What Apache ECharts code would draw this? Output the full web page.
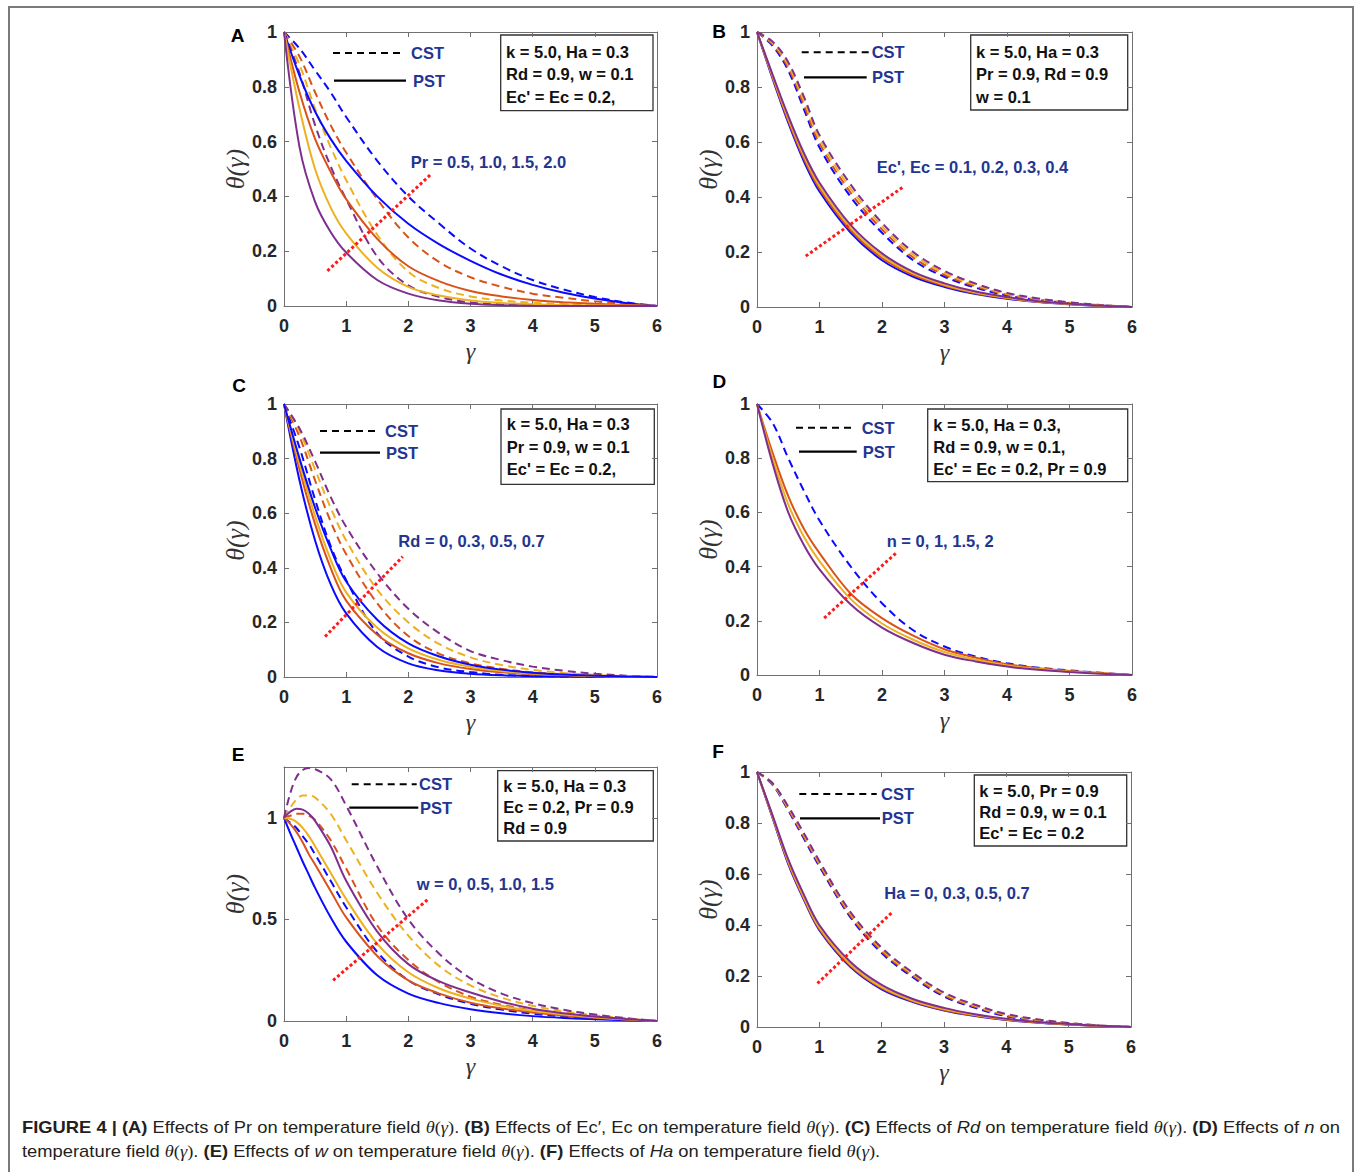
<!DOCTYPE html>
<html><head><meta charset="utf-8">
<script src="https://cdn.jsdelivr.net/npm/echarts@6/dist/echarts.min.js"></script>
<style>
html,body{margin:0;padding:0;background:#fff;}
#wrap{position:relative;width:1357px;height:1172px;overflow:hidden;background:#fff;}
#frame{position:absolute;left:8px;top:6px;width:1346px;height:1200px;border:2px solid #7a7a7a;box-sizing:border-box;}
#chart{position:absolute;left:0;top:0;width:1357px;height:1172px;}
#caption{position:absolute;left:22px;top:1116px;font-family:'Liberation Sans',Arial,sans-serif;font-size:17px;line-height:24px;color:#231f20;}
#caption div{white-space:nowrap;transform-origin:0 0;display:inline-block;}
.m{font-family:'Liberation Serif',serif;font-style:italic;}
.r{font-family:'Liberation Serif',serif;}
</style></head>
<body>
<div id="wrap">
<div id="frame"></div>
<div id="chart"></div>
<div id="caption">
<div id="cap1"><b>FIGURE 4 | (A)</b> Effects of Pr on temperature field <span class="m">θ</span><span class="r">(</span><span class="m">γ</span><span class="r">)</span>. <b>(B)</b> Effects of Ec′, Ec on temperature field <span class="m">θ</span><span class="r">(</span><span class="m">γ</span><span class="r">)</span>. <b>(C)</b> Effects of <i>Rd</i> on temperature field <span class="m">θ</span><span class="r">(</span><span class="m">γ</span><span class="r">)</span>. <b>(D)</b> Effects of <i>n</i> on</div><br>
<div id="cap2">temperature field <span class="m">θ</span><span class="r">(</span><span class="m">γ</span><span class="r">)</span>. <b>(E)</b> Effects of <i>w</i> on temperature field <span class="m">θ</span><span class="r">(</span><span class="m">γ</span><span class="r">)</span>. <b>(F)</b> Effects of <i>Ha</i> on temperature field <span class="m">θ</span><span class="r">(</span><span class="m">γ</span><span class="r">)</span>.</div>
</div>
</div>
<script>
// ---------------- DATA ----------------
const X_TICKS = [0, 1, 2, 3, 4, 5, 6];
const Y_TICKS = [0, 0.2, 0.4, 0.6, 0.8, 1];
const Y_TICKS_E = [0, 0.5, 1];
const Y_MAX_E = 1.25;

const X_STD = [0, 0.25, 0.5, 0.75, 1, 1.5, 2, 2.5, 3, 3.5, 4, 4.5, 5, 5.5, 6];
const X_E = [0, 0.1, 0.2, 0.3, 0.4, 0.5, 0.75, 1, 1.5, 2, 2.5, 3, 3.5, 4, 4.5, 5, 5.5, 6];

// (A) Pr = 0.5, 1.0, 1.5, 2.0
const A_CST = [
  [1, 0.94, 0.86, 0.78, 0.69, 0.53, 0.40, 0.30, 0.21, 0.145, 0.095, 0.06, 0.033, 0.013, 0],
  [1, 0.91, 0.78, 0.66, 0.56, 0.39, 0.25, 0.16, 0.105, 0.07, 0.045, 0.03, 0.017, 0.008, 0],
  [1, 0.88, 0.72, 0.58, 0.46, 0.26, 0.125, 0.065, 0.035, 0.02, 0.012, 0.007, 0.004, 0.002, 0],
  [1, 0.85, 0.66, 0.51, 0.39, 0.18, 0.075, 0.033, 0.013, 0.006, 0.003, 0.002, 0.001, 0, 0]
];
const A_PST = [
  [1, 0.84, 0.71, 0.61, 0.53, 0.40, 0.30, 0.225, 0.165, 0.115, 0.077, 0.048, 0.027, 0.011, 0],
  [1, 0.78, 0.61, 0.49, 0.39, 0.245, 0.145, 0.09, 0.055, 0.035, 0.022, 0.014, 0.008, 0.004, 0],
  [1, 0.72, 0.50, 0.36, 0.265, 0.14, 0.07, 0.038, 0.02, 0.011, 0.006, 0.003, 0.002, 0.001, 0],
  [1, 0.58, 0.38, 0.27, 0.195, 0.095, 0.045, 0.02, 0.008, 0.003, 0.001, 0, 0, 0, 0]
];
const A_ARROW = [[2.35, 0.478], [0.68, 0.124]];

// (B) Ec', Ec = 0.1, 0.2, 0.3, 0.4
const B_CST = [
  [1, 0.95, 0.86, 0.72, 0.58, 0.40, 0.27, 0.17, 0.11, 0.07, 0.042, 0.025, 0.014, 0.006, 0],
  [1, 0.955, 0.87, 0.735, 0.595, 0.415, 0.282, 0.18, 0.117, 0.075, 0.045, 0.027, 0.015, 0.006, 0],
  [1, 0.96, 0.88, 0.75, 0.61, 0.43, 0.294, 0.19, 0.124, 0.08, 0.048, 0.029, 0.016, 0.007, 0],
  [1, 0.965, 0.89, 0.765, 0.625, 0.445, 0.306, 0.20, 0.131, 0.085, 0.051, 0.031, 0.017, 0.007, 0]
];
const B_PST = [
  [1, 0.83, 0.67, 0.53, 0.42, 0.27, 0.17, 0.11, 0.073, 0.047, 0.03, 0.018, 0.01, 0.004, 0],
  [1, 0.835, 0.678, 0.54, 0.43, 0.279, 0.178, 0.116, 0.077, 0.05, 0.032, 0.019, 0.011, 0.004, 0],
  [1, 0.84, 0.686, 0.55, 0.44, 0.288, 0.186, 0.122, 0.081, 0.053, 0.034, 0.02, 0.011, 0.005, 0],
  [1, 0.845, 0.695, 0.56, 0.452, 0.298, 0.195, 0.128, 0.086, 0.056, 0.036, 0.021, 0.012, 0.005, 0]
];
const B_ARROW = [[0.78, 0.185], [2.34, 0.437]];

// (C) Rd = 0, 0.3, 0.5, 0.7
const C_CST = [
  [1, 0.84, 0.65, 0.48, 0.355, 0.16, 0.075, 0.035, 0.018, 0.008, 0.004, 0.002, 0.001, 0, 0],
  [1, 0.88, 0.72, 0.57, 0.45, 0.27, 0.15, 0.085, 0.05, 0.03, 0.017, 0.01, 0.005, 0.002, 0],
  [1, 0.90, 0.76, 0.62, 0.50, 0.32, 0.20, 0.12, 0.072, 0.044, 0.026, 0.015, 0.008, 0.003, 0],
  [1, 0.91, 0.79, 0.66, 0.55, 0.38, 0.25, 0.16, 0.095, 0.062, 0.038, 0.023, 0.012, 0.005, 0]
];
const C_PST = [
  [1, 0.72, 0.50, 0.34, 0.233, 0.11, 0.05, 0.024, 0.012, 0.006, 0.003, 0.002, 0.001, 0, 0],
  [1, 0.76, 0.56, 0.40, 0.28, 0.155, 0.087, 0.05, 0.029, 0.017, 0.01, 0.006, 0.003, 0.001, 0],
  [1, 0.78, 0.59, 0.43, 0.31, 0.18, 0.105, 0.062, 0.037, 0.022, 0.013, 0.008, 0.004, 0.002, 0],
  [1, 0.80, 0.62, 0.47, 0.35, 0.21, 0.123, 0.075, 0.045, 0.027, 0.016, 0.009, 0.005, 0.002, 0]
];
const C_ARROW = [[0.66, 0.148], [1.91, 0.441]];

// (D) n = 0, 1, 1.5, 2
const D_CST = [
  [1, 0.93, 0.80, 0.68, 0.57, 0.40, 0.265, 0.165, 0.105, 0.068, 0.043, 0.027, 0.017, 0.008, 0]
];
const D_PST = [
  [1, 0.82, 0.66, 0.54, 0.45, 0.30, 0.21, 0.145, 0.095, 0.064, 0.04, 0.025, 0.015, 0.007, 0],
  [1, 0.80, 0.63, 0.51, 0.42, 0.28, 0.19, 0.13, 0.085, 0.057, 0.035, 0.022, 0.013, 0.006, 0],
  [1, 0.78, 0.60, 0.48, 0.39, 0.26, 0.175, 0.118, 0.075, 0.05, 0.031, 0.019, 0.011, 0.005, 0]
];
const D_ARROW = [[2.22, 0.449], [1.05, 0.205]];

// (E) w = 0, 0.5, 1.0, 1.5
const E_CST = [
  [1, 0.975, 0.95, 0.91, 0.87, 0.82, 0.69, 0.56, 0.34, 0.20, 0.13, 0.085, 0.056, 0.036, 0.023, 0.014, 0.006, 0],
  [1, 1.01, 1.02, 1.02, 1.01, 0.99, 0.89, 0.75, 0.47, 0.30, 0.19, 0.12, 0.08, 0.052, 0.034, 0.02, 0.009, 0],
  [1, 1.05, 1.09, 1.11, 1.11, 1.10, 1.02, 0.89, 0.63, 0.42, 0.27, 0.175, 0.115, 0.075, 0.047, 0.028, 0.012, 0],
  [1, 1.12, 1.20, 1.235, 1.245, 1.24, 1.19, 1.06, 0.76, 0.50, 0.33, 0.21, 0.135, 0.088, 0.055, 0.032, 0.014, 0]
];
const E_PST = [
  [1, 0.925, 0.855, 0.785, 0.72, 0.655, 0.51, 0.39, 0.225, 0.135, 0.088, 0.058, 0.038, 0.024, 0.015, 0.009, 0.004, 0],
  [1, 0.97, 0.93, 0.88, 0.82, 0.77, 0.64, 0.51, 0.32, 0.20, 0.135, 0.09, 0.062, 0.042, 0.027, 0.016, 0.007, 0],
  [1, 0.995, 0.98, 0.95, 0.91, 0.86, 0.73, 0.60, 0.38, 0.24, 0.16, 0.11, 0.075, 0.05, 0.032, 0.019, 0.008, 0],
  [1, 1.03, 1.045, 1.04, 1.02, 0.985, 0.86, 0.69, 0.44, 0.28, 0.195, 0.14, 0.095, 0.06, 0.038, 0.022, 0.01, 0]
];
const E_ARROW = [[0.79, 0.20], [2.32, 0.60]];

// (F) Ha = 0, 0.3, 0.5, 0.7
const F_CST = [
  [1, 0.95, 0.85, 0.74, 0.63, 0.43, 0.29, 0.195, 0.12, 0.075, 0.042, 0.024, 0.013, 0.005, 0],
  [1, 0.952, 0.855, 0.747, 0.637, 0.437, 0.297, 0.201, 0.125, 0.079, 0.045, 0.026, 0.014, 0.005, 0],
  [1, 0.954, 0.86, 0.754, 0.644, 0.444, 0.304, 0.207, 0.13, 0.083, 0.048, 0.028, 0.015, 0.006, 0],
  [1, 0.956, 0.865, 0.761, 0.651, 0.451, 0.311, 0.213, 0.135, 0.087, 0.051, 0.03, 0.016, 0.006, 0]
];
const F_PST = [
  [1, 0.82, 0.64, 0.50, 0.38, 0.235, 0.148, 0.098, 0.065, 0.043, 0.027, 0.017, 0.01, 0.004, 0],
  [1, 0.823, 0.645, 0.505, 0.385, 0.24, 0.152, 0.101, 0.067, 0.045, 0.028, 0.018, 0.01, 0.004, 0],
  [1, 0.826, 0.65, 0.51, 0.39, 0.245, 0.156, 0.104, 0.07, 0.047, 0.03, 0.019, 0.011, 0.004, 0],
  [1, 0.83, 0.658, 0.52, 0.40, 0.255, 0.165, 0.11, 0.075, 0.05, 0.032, 0.02, 0.012, 0.005, 0]
];
const F_ARROW = [[0.97, 0.171], [2.16, 0.448]];

// ---------------- STYLE / LAYOUT ----------------
const BLUE = '#0a0aff', ORANGE = '#d95319', YELLOW = '#edb120', PURPLE = '#7e2f8e';
const C4 = [BLUE, ORANGE, YELLOW, PURPLE];
const NAVY = '#233590';
const AXC = '#707070';
const TXT = '#262626';

const panels = [
  {id:'A', grid:{left:284, top:32, width:373, height:274}, xs:X_STD, cst:A_CST, pst:A_PST, cc:C4, pc:C4, yt:Y_TICKS, ymax:1, arrow:A_ARROW, gap:36,
   letter:[237.5,35], dash:[333,403,53,411], solid:[334,406,80.7,413], box:[500.7,35,152.3,75.7], bt:[506,[51.7,74,96.7]],
   lines:['k = 5.0, Ha = 0.3','Rd = 0.9, w = 0.1',"Ec' = Ec = 0.2,"], lab:['Pr = 0.5, 1.0, 1.5, 2.0',410.7,161.7]},
  {id:'B', grid:{left:757, top:32, width:375, height:275}, xs:X_STD, cst:B_CST, pst:B_PST, cc:C4, pc:C4, yt:Y_TICKS, ymax:1, arrow:B_ARROW, gap:29,
   letter:[719,31.7], dash:[801.7,870,52.3,871.7], solid:[804,866.7,77.3,872], box:[970.7,35,157,75], bt:[976,[51.7,74,96.7]],
   lines:['k = 5.0, Ha = 0.3','Pr = 0.9, Rd = 0.9','w = 0.1'], lab:["Ec', Ec = 0.1, 0.2, 0.3, 0.4",876.7,166.7]},
  {id:'C', grid:{left:284, top:404, width:373, height:273}, xs:X_STD, cst:C_CST, pst:C_PST, cc:C4, pc:[BLUE, ORANGE, YELLOW, BLUE], yt:Y_TICKS, ymax:1, arrow:C_ARROW, gap:33,
   letter:[239,385.5], dash:[320,377.3,431,385], solid:[320,380,452.7,386], box:[501,409,153.3,75.3], bt:[506.7,[424.3,446.7,469.3]],
   lines:['k = 5.0, Ha = 0.3','Pr = 0.9, w = 0.1',"Ec' = Ec = 0.2,"], lab:['Rd = 0, 0.3, 0.5, 0.7',398.3,541]},
  {id:'D', grid:{left:757, top:404, width:375, height:271}, xs:X_STD, cst:D_CST, pst:D_PST, cc:[BLUE], pc:[ORANGE, YELLOW, PURPLE], yt:Y_TICKS, ymax:1, arrow:D_ARROW, gap:31,
   letter:[719.3,381.7], dash:[796,854,427.7,861.7], solid:[799,856.7,451.7,862.7], box:[927.7,409,200,72.7], bt:[933.3,[425,447.3,469.3]],
   lines:['k = 5.0, Ha = 0.3,','Rd = 0.9, w = 0.1,',"Ec' = Ec = 0.2, Pr = 0.9"], lab:['n = 0, 1, 1.5, 2',886.7,541]},
  {id:'E', grid:{left:284, top:767, width:373, height:254}, xs:X_E, cst:E_CST, pst:E_PST, cc:C4, pc:C4, yt:Y_TICKS_E, ymax:Y_MAX_E, arrow:E_ARROW, gap:33,
   letter:[238,754.3], dash:[351.7,416.7,784.3,419], solid:[349.3,418.3,807.7,420], box:[497.7,770.7,155.6,70.3], bt:[503.3,[786,806.7,827.7]],
   lines:['k = 5.0, Ha = 0.3','Ec = 0.2, Pr = 0.9','Rd = 0.9'], lab:['w = 0, 0.5, 1.0, 1.5',416.7,884]},
  {id:'F', grid:{left:757, top:772, width:374, height:255}, xs:X_STD, cst:F_CST, pst:F_PST, cc:C4, pc:C4, yt:Y_TICKS, ymax:1, arrow:F_ARROW, gap:30,
   letter:[718,751.7], dash:[799.3,876.7,794,881], solid:[800,880,818.3,881.7], box:[974.3,775,152.4,71], bt:[979.3,[790.7,811.7,832.7]],
   lines:['k = 5.0, Pr = 0.9','Rd = 0.9, w = 0.1',"Ec' = Ec = 0.2"], lab:['Ha = 0, 0.3, 0.5, 0.7',884.3,892.7]}
];

const grids = [], xAxes = [], yAxes = [], series = [], graphics = [];
const tickFont = {fontSize:18, fontWeight:'bold', color:TXT, fontFamily:'Liberation Sans, Arial, sans-serif'};

panels.forEach((p, gi) => {
  grids.push(Object.assign({containLabel:false, show:false}, p.grid));
  const xmin = X_TICKS[0], xmax = X_TICKS[X_TICKS.length-1], xint = X_TICKS[1]-X_TICKS[0];
  const ymin = p.yt[0], yint = p.yt[1]-p.yt[0];
  const baseX = {type:'value', gridIndex:gi, min:xmin, max:xmax, interval:xint, splitLine:{show:false},
    axisLine:{show:true, onZero:false, lineStyle:{color:AXC, width:1}}, axisTick:{show:true, inside:true, length:5, lineStyle:{color:AXC}}};
  xAxes.push(Object.assign({}, baseX, {position:'bottom', axisLabel:Object.assign({margin:11}, tickFont),
    name:'γ', nameLocation:'middle', nameGap:33, nameTextStyle:{fontFamily:'Liberation Serif, serif', fontStyle:'italic', fontSize:24, color:'#333'}}));
  xAxes.push(Object.assign({}, baseX, {position:'top', axisLabel:{show:false}}));
  const baseY = {type:'value', gridIndex:gi, min:ymin, max:p.ymax, interval:yint, splitLine:{show:false},
    axisLine:{show:true, onZero:false, lineStyle:{color:AXC, width:1}}, axisTick:{show:true, inside:true, length:5, lineStyle:{color:AXC}}};
  yAxes.push(Object.assign({}, baseY, {position:'left', axisLabel:Object.assign({margin:7, showMaxLabel: p.ymax === p.yt[p.yt.length-1]}, tickFont),
    name:'θ(γ)', nameLocation:'middle', nameGap:p.gap, nameRotate:90, nameTextStyle:{fontFamily:'Liberation Serif, serif', fontStyle:'italic', fontSize:26, color:'#333'}}));
  yAxes.push(Object.assign({}, baseY, {position:'right', axisLabel:{show:false}}));

  const xi = gi*2, yi = gi*2;
  const mk = (ys, color, dashed) => ({
    type:'line', xAxisIndex:xi, yAxisIndex:yi, data:p.xs.map((x,i)=>[x, ys[i]]),
    showSymbol:false, smooth:0.35, clip:true, silent:true,
    lineStyle:{color:color, width:2, type: dashed ? [8,5] : 'solid'}, z:2
  });
  p.cst.forEach((ys, k) => series.push(mk(ys, p.cc[k], true)));
  p.pst.forEach((ys, k) => series.push(mk(ys, p.pc[k], false)));
  // red dotted arrow (annotation in data coordinates)
  series.push({type:'line', xAxisIndex:xi, yAxisIndex:yi, data:[], silent:true,
    markLine:{silent:true, animation:false, symbol:['none','arrow'], symbolSize:[0,13], label:{show:false},
      lineStyle:{color:'#ff1a1a', width:3, type:[3,2.5]}, itemStyle:{color:'#ff1a1a'},
      data:[[{coord:p.arrow[0]}, {coord:p.arrow[1]}]]}, z:5});

  // annotations
  graphics.push({type:'text', x:p.letter[0], y:p.letter[1], style:{text:p.id, font:'bold 19px "Liberation Sans", Arial, sans-serif', fill:'#000', align:'center', verticalAlign:'middle', textAlign:'center', textVerticalAlign:'middle'}});
  graphics.push({type:'line', shape:{x1:p.dash[0], y1:p.dash[2], x2:p.dash[1], y2:p.dash[2]}, style:{stroke:'#000', lineWidth:2, lineDash:[7,5]}});
  graphics.push({type:'text', x:p.dash[3], y:p.dash[2], style:{text:'CST', font:'bold 16.5px "Liberation Sans", Arial, sans-serif', fill:NAVY, verticalAlign:'middle', textVerticalAlign:'middle'}});
  graphics.push({type:'line', shape:{x1:p.solid[0], y1:p.solid[2], x2:p.solid[1], y2:p.solid[2]}, style:{stroke:'#000', lineWidth:2.2}});
  graphics.push({type:'text', x:p.solid[3], y:p.solid[2], style:{text:'PST', font:'bold 16.5px "Liberation Sans", Arial, sans-serif', fill:NAVY, verticalAlign:'middle', textVerticalAlign:'middle'}});
  graphics.push({type:'rect', shape:{x:p.box[0], y:p.box[1], width:p.box[2], height:p.box[3]}, style:{fill:'#fff', stroke:'#333', lineWidth:1.3}});
  p.lines.forEach((t, k) => graphics.push({type:'text', x:p.bt[0], y:p.bt[1][k], style:{text:t, font:'bold 16.5px "Liberation Sans", Arial, sans-serif', fill:'#111', verticalAlign:'middle', textVerticalAlign:'middle'}}));
  graphics.push({type:'text', x:p.lab[1], y:p.lab[2], style:{text:p.lab[0], font:'bold 16.5px "Liberation Sans", Arial, sans-serif', fill:NAVY, verticalAlign:'middle', textVerticalAlign:'middle'}});
});

const chart = echarts.init(document.getElementById('chart'), null, {renderer:'svg', width:1357, height:1172});
chart.setOption({
  animation:false,
  backgroundColor:'transparent',
  grid:grids, xAxis:xAxes, yAxis:yAxes, series:series,
  graphic:{elements:graphics}
});

// fit caption line 1 to the printed width
function fitCaption(){
  const c1 = document.getElementById('cap1'), c2 = document.getElementById('cap2');
  const w = c1.getBoundingClientRect().width;
  const s = 1318 / w;
  c1.style.transform = 'scaleX(' + s + ')';
  c2.style.transform = 'scaleX(' + s + ')';
}
fitCaption();
</script>
</body></html>
